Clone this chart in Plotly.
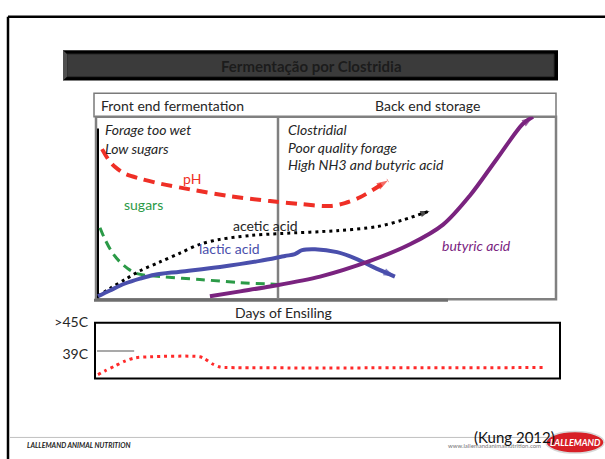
import plotly.graph_objects as go

W, H = 605, 459

# ---------------- data (days of ensiling 0-100, relative level 0-100) ----------------
ph_days = [1.1, 2.4, 3.9, 6.1, 9.4, 13.7, 20.3, 29.0, 37.7, 44.2, 50.8, 54.0, 57.3, 63.4]
ph_level = [82.3, 76.9, 72.6, 68.8, 66.1, 63.4, 60.2, 56.5, 53.8, 52.2, 51.1, 52.7, 55.9, 65.1]

sugar_days = [0.65, 1.74, 3.27, 5.01, 6.75, 8.71, 13.7, 22.4, 31.2, 39.4]
sugar_level = [39.2, 32.8, 25.8, 20.4, 16.7, 14.0, 12.4, 10.8, 9.1, 8.1]

acetic_days = [0.22, 2.83, 6.10, 9.37, 13.7, 18.1, 22.4, 26.8, 33.3, 39.9, 52.3, 61.0, 66.7, 72.5]
acetic_level = [1.6, 5.9, 10.8, 15.6, 20.4, 25.3, 30.1, 32.8, 34.9, 36.0, 37.6, 39.8, 43.5, 48.4]

lactic_days = [0.22, 2.83, 6.10, 9.37, 12.6, 18.1, 26.8, 35.5, 40.96, 43.1, 44.7, 47.5, 52.3, 56.6, 60.1, 64.9]
lactic_level = [1.6, 4.8, 8.6, 11.3, 13.4, 15.1, 17.7, 21.0, 23.7, 24.7, 26.9, 27.4, 25.8, 22.0, 17.7, 12.4]

butyric_days = [24.6, 31.2, 37.7, 48.6, 59.5, 68.2, 75.4, 81.3, 87.1, 92.8, 95.0]
butyric_level = [1.6, 4.3, 7.0, 12.4, 21.0, 30.1, 40.9, 57.0, 76.9, 96.2, 100.0]

temp_days = [0.22, 1.74, 3.92, 6.10, 8.28, 11.5, 22.4, 23.5, 25.1, 26.8, 29.0, 97.6]
temp_c = [35.2, 35.9, 36.8, 37.7, 38.3, 38.5, 38.5, 38.1, 37.2, 36.6, 36.5, 36.5]
temp_ticks = [45, 39]
temp_ticktext = [">45C", "39C"]
ref_line_temp = 39.55
ref_line_days = [-0.2, 8.1]

FONT = "Lato"
TXT = "#262626"


def px(x):
    return x / W


def py(y):
    return 1 - y / H


fig = go.Figure()


def curve(xs, ys, color, width, dash, arrow=True, xa="x", ya="y", head=12):
    sizes = [0] * (len(xs) - 1) + [head if arrow else 0]
    fig.add_trace(go.Scatter(
        x=xs, y=ys, xaxis=xa, yaxis=ya,
        mode="lines+markers" if arrow else "lines",
        line=dict(color=color, width=width, dash=dash, shape="spline", smoothing=0.9),
        marker=dict(symbol="arrow", size=sizes, color=color, angleref="previous",
                    line=dict(width=0)),
        hoverinfo="skip", showlegend=False,
    ))


curve(ph_days, ph_level, "#ef2f26", 4, "11px,7px")
curve(sugar_days, sugar_level, "#2b9a47", 3, "9px,6px", arrow=False)
curve(acetic_days, acetic_level, "#000000", 3, "3px,4px", head=10)
curve(lactic_days, lactic_level, "#4a4fac", 4, "solid")
curve(butyric_days, butyric_level, "#7a237f", 4, "solid")

fig.add_trace(go.Scatter(
    x=temp_days, y=temp_c, xaxis="x2", yaxis="y2", mode="lines",
    line=dict(color="#ff2a2a", width=3, dash="3px,4px", shape="spline", smoothing=0.8),
    hoverinfo="skip", showlegend=False,
))

shapes = []


def rect(x0, y0, x1, y1, line_color, lw, fill="rgba(0,0,0,0)", layer="below"):
    shapes.append(dict(type="rect", xref="paper", yref="paper",
                       x0=px(x0), x1=px(x1), y0=py(y0), y1=py(y1),
                       line=dict(color=line_color, width=lw), fillcolor=fill, layer=layer))


def hline(x0, x1, y, color, lw):
    shapes.append(dict(type="line", xref="paper", yref="paper",
                       x0=px(x0), x1=px(x1), y0=py(y), y1=py(y),
                       line=dict(color=color, width=lw), layer="below"))


def vline(x, y0, y1, color, lw):
    shapes.append(dict(type="line", xref="paper", yref="paper",
                       x0=px(x), x1=px(x), y0=py(y0), y1=py(y1),
                       line=dict(color=color, width=lw), layer="below"))


# outer slide frame
vline(8, 8, 459, "#000000", 2.5)
hline(8, 605, 8, "#000000", 2.5)

# title bar
rect(63, 42, 558, 73, "#000000", 0, fill="#000000")
rect(67, 46, 554, 69, "#2a2a2a", 1, fill="#3b3b3b")
shapes.append(dict(type="path", xref="paper", yref="paper",
                   path=f"M{px(63)},{py(42)} L{px(67)},{py(46)} L{px(67)},{py(69)} L{px(63)},{py(73)} Z",
                   fillcolor="#505050", line=dict(width=0), layer="below"))

# header box
rect(94, 86, 556, 110, "#7a7a7a", 1.5, fill="#ffffff")
# main box
rect(96, 110, 556, 296, "#808080", 2.5)
hline(94, 448, 297, "#6e6e6e", 3)
vline(278, 110, 296, "#808080", 2.5)
vline(98, 122, 295, "#000000", 2)

# temperature box
rect(95, 320, 560, 377, "#000000", 2)
shapes.append(dict(type="line", xref="x2", yref="y2", x0=ref_line_days[0], x1=ref_line_days[1],
                   y0=ref_line_temp, y1=ref_line_temp, line=dict(color="#8c8c8c", width=1.5)))

# footer
hline(10, 548, 437, "#c0c0c0", 1)
shapes.append(dict(type="circle", xref="paper", yref="paper",
                   x0=px(546), x1=px(604), y0=py(453), y1=py(431),
                   fillcolor="#d71f26", line=dict(color="#d8d8d8", width=1.5), layer="above"))

annotations = []


def text(x, y, s, size=14, color=TXT, anchor="left", weight="normal", style="normal"):
    annotations.append(dict(x=px(x), y=py(y), xref="paper", yref="paper", text=s,
                            showarrow=False, xanchor=anchor, yanchor="middle",
                            font=dict(family=FONT, size=size, color=color,
                                      weight=weight, style=style)))


text(311, 58, "Fermentação por Clostridia", 15, "#1c1c1c", "center", weight="bold")
text(99, 98, "Front end fermentation", 14)
text(427, 98, "Back end storage", 14, anchor="center")
text(103, 123, "Forage too wet", 14, style="italic")
text(103, 142, "Low sugars", 14, style="italic")
text(286, 123, "Clostridial", 14, style="italic")
text(286, 141, "Poor quality forage", 14, style="italic")
text(286, 159, "High NH3 and butyric acid", 14, style="italic")
text(192, 173, "pH", 14, "#ef2f26", "center")
text(143, 199, "sugars", 14, "#2b9a47", "center")
text(265, 221, "acetic acid", 14, TXT, "center")
text(229, 244, "lactic acid", 14, "#4a4fac", "center")
text(477, 241, "butyric acid", 14, "#7a237f", "center", style="italic")
text(283, 310, "Days of Ensiling", 14, anchor="center")
text(25, 445, "LALLEMAND ANIMAL NUTRITION", 7, "#222222", weight="bold", style="italic")
text(446, 445, "www.lallemandanimalnutrition.com", 6, "#777777")
text(514, 437, "(Kung 2012)", 15, "#111111", "center")
text(575, 442, "LALLEMAND", 9, "#ffffff", "center", weight="bold", style="italic")

fig.update_layout(
    width=W, height=H, autosize=False,
    margin=dict(l=0, r=0, t=0, b=0, pad=0),
    paper_bgcolor="#ffffff", plot_bgcolor="rgba(0,0,0,0)",
    showlegend=False,
    shapes=shapes, annotations=annotations,
    xaxis=dict(domain=[px(97), px(556)], range=[0, 100], visible=False, fixedrange=True),
    yaxis=dict(domain=[py(296), py(110)], range=[0, 100], visible=False, fixedrange=True),
    xaxis2=dict(domain=[px(97), px(556)], range=[0, 100], visible=False, anchor="y2", fixedrange=True),
    yaxis2=dict(domain=[py(377), py(319)], range=[34.45, 45], anchor="x2",
                tickvals=temp_ticks, ticktext=temp_ticktext, showgrid=False, zeroline=False,
                showline=False, ticks="", ticklabelstandoff=8,
                tickfont=dict(family=FONT, size=14, color=TXT), fixedrange=True),
)

fig.write_html("out.html", config={"displayModeBar": False})
